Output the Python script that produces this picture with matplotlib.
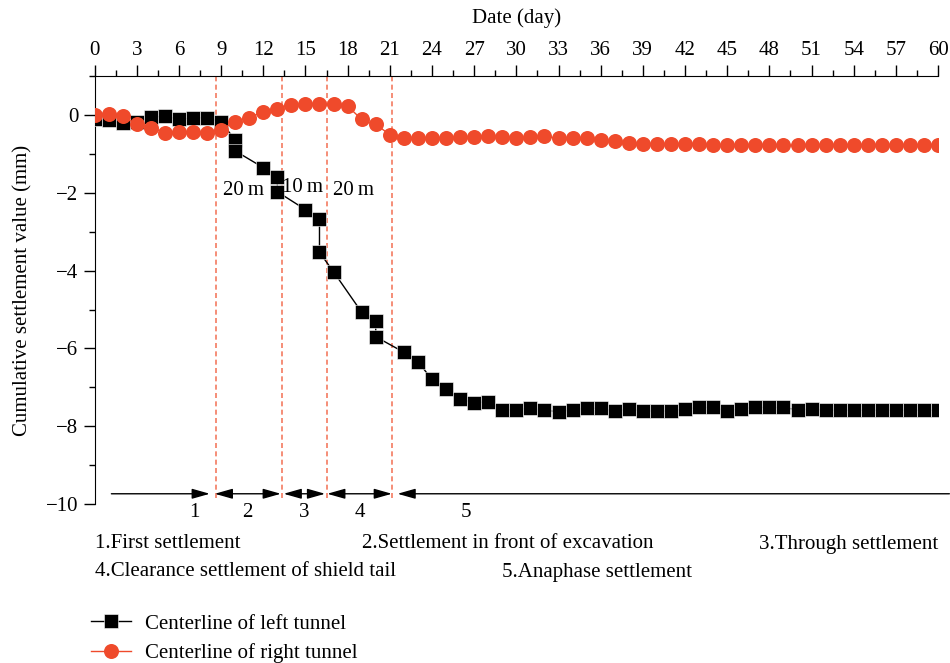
import numpy as np
import matplotlib
matplotlib.use("Agg")
import matplotlib.pyplot as plt
from matplotlib.ticker import MultipleLocator

plt.rcParams['font.family'] = ['Liberation Serif', 'DejaVu Serif']
plt.rcParams['font.size'] = 15
plt.rcParams['axes.unicode_minus'] = True

# right tunnel centerline, one reading per day
days_right = list(range(61))
right = [0.0, 0.03, -0.03, -0.24, -0.33, -0.45, -0.43, -0.44, -0.47, -0.37,
         -0.17, -0.07, 0.09, 0.17, 0.26, 0.28, 0.28, 0.28, 0.23, -0.11,
         -0.24, -0.5, -0.6, -0.6, -0.6, -0.58, -0.56, -0.55, -0.54, -0.56,
         -0.6, -0.56, -0.54, -0.6, -0.6, -0.6, -0.64, -0.67, -0.72, -0.75,
         -0.75, -0.75, -0.75, -0.75, -0.78, -0.78, -0.78, -0.78, -0.78, -0.78,
         -0.78, -0.78, -0.78, -0.78, -0.78, -0.78, -0.78, -0.78, -0.78, -0.78,
         -0.78]

# left tunnel centerline (some days measured twice)
days_left = [0, 1, 2, 3, 4, 5, 6, 7, 8, 9, 10, 10, 12, 13, 13, 15, 16, 16, 17,
             19, 20, 20, 22, 23, 24, 25, 26, 27, 28] + list(range(29, 61))
left = [-0.09, -0.13, -0.21, -0.17, -0.06, -0.02, -0.11, -0.07, -0.07, -0.17,
        -0.64, -0.92, -1.35, -1.59, -1.97, -2.43, -2.66, -3.53, -4.03,
        -5.07, -5.3, -5.7, -6.1, -6.34, -6.8, -7.05, -7.3, -7.4, -7.37,
        -7.58, -7.58, -7.54, -7.59, -7.63, -7.58, -7.54, -7.54, -7.61, -7.56,
        -7.61, -7.61, -7.61, -7.55, -7.52, -7.52, -7.61, -7.55, -7.52, -7.52,
        -7.52, -7.58, -7.56, -7.59, -7.59, -7.59, -7.59, -7.59, -7.59, -7.59,
        -7.59, -7.59]

# stage boundaries (day) and stage arrows
stage_lines = [8.67, 13.3, 16.5, 21.15]
stage_arrows = [(1.2, 8.2, '-|>'), (8.55, 13.25, '<|-|>'), (13.45, 16.4, '<|-|>'),
                (16.55, 21.15, '<|-|>'), (21.55, 60.8, '<|-')]
stage_nums = ['1', '2', '3', '4', '5']
stage_num_x = [7.1, 10.9, 14.9, 18.9, 26.4]
dist_labels = ['20\u2009m', '10\u2009m', '20\u2009m']
dist_x = [10.6, 14.8, 18.4]
dist_y = [-1.93, -1.85, -1.93]

red = '#EF4A2B'

fig = plt.figure(figsize=(9.5, 6.63), dpi=100)
ax = fig.add_axes([0.0995, 0.240, 0.888, 0.645])

ax.plot(days_left, left, color='black', lw=1, marker='s', markersize=9.5,
        markeredgecolor='white', markeredgewidth=0.4,
        label='Centerline of left tunnel', zorder=3)
ax.plot(days_right, right, color=red, lw=1, marker='o', markersize=10.8,
        markeredgewidth=0, label='Centerline of right tunnel', zorder=4)

ax.vlines(stage_lines, -9.85, 1, colors='#F47A60', linestyles=(0, (3, 2)), lw=1.2,
          zorder=2, clip_on=False)

y_arrow = -9.74
for x0, x1, st in stage_arrows:
    ax.annotate('', xy=(x1, y_arrow), xytext=(x0, y_arrow),
                arrowprops=dict(arrowstyle=st + ',head_length=0.6,head_width=0.17',
                                color='black', lw=1, mutation_scale=18,
                                shrinkA=0, shrinkB=0),
                annotation_clip=False)
for s, x in zip(stage_nums, stage_num_x):
    ax.text(x, -10.22, s, ha='center', va='center', clip_on=False)
for s, x, y in zip(dist_labels, dist_x, dist_y):
    ax.text(x, y, s, ha='center', va='center', fontsize=15)

ax.set_xlim(0, 60)
ax.set_ylim(-10, 1)
ax.xaxis.tick_top()
ax.xaxis.set_label_position('top')
ax.xaxis.set_major_locator(MultipleLocator(3))
ax.xaxis.set_minor_locator(MultipleLocator(1.5))
ax.yaxis.set_major_locator(MultipleLocator(2))
ax.yaxis.set_minor_locator(MultipleLocator(1))
ax.set_yticks([0, -2, -4, -6, -8, -10])
ax.tick_params(which='major', direction='out', length=8, width=1, labelsize=15)
ax.tick_params(which='minor', direction='out', length=4, width=1)
ax.set_xlabel('Date (day)', labelpad=13)
ax.set_ylabel('Cumulative settlement value (mm)', labelpad=10)
ax.spines['right'].set_visible(False)
ax.spines['bottom'].set_visible(False)

fig.text(95 / 950, 1 - 544 / 663, '1.First settlement', va='center', ha='left')
fig.text(362 / 950, 1 - 544 / 663, '2.Settlement in front of excavation', va='center', ha='left')
fig.text(938 / 950, 1 - 544 / 663, '3.Through settlement', va='center', ha='right')
fig.text(95 / 950, 1 - 572 / 663, '4.Clearance settlement of shield tail', va='center', ha='left')
fig.text(502 / 950, 1 - 572 / 663, '5.Anaphase settlement', va='center', ha='left')

ax.legend(loc='upper left', bbox_to_anchor=(91 / 950, 1 - 614 / 663),
          bbox_transform=fig.transFigure, frameon=False, handlelength=1.9,
          handletextpad=0.7, labelspacing=0.45, borderaxespad=0, borderpad=0)

fig.savefig('out.png', dpi=100)
